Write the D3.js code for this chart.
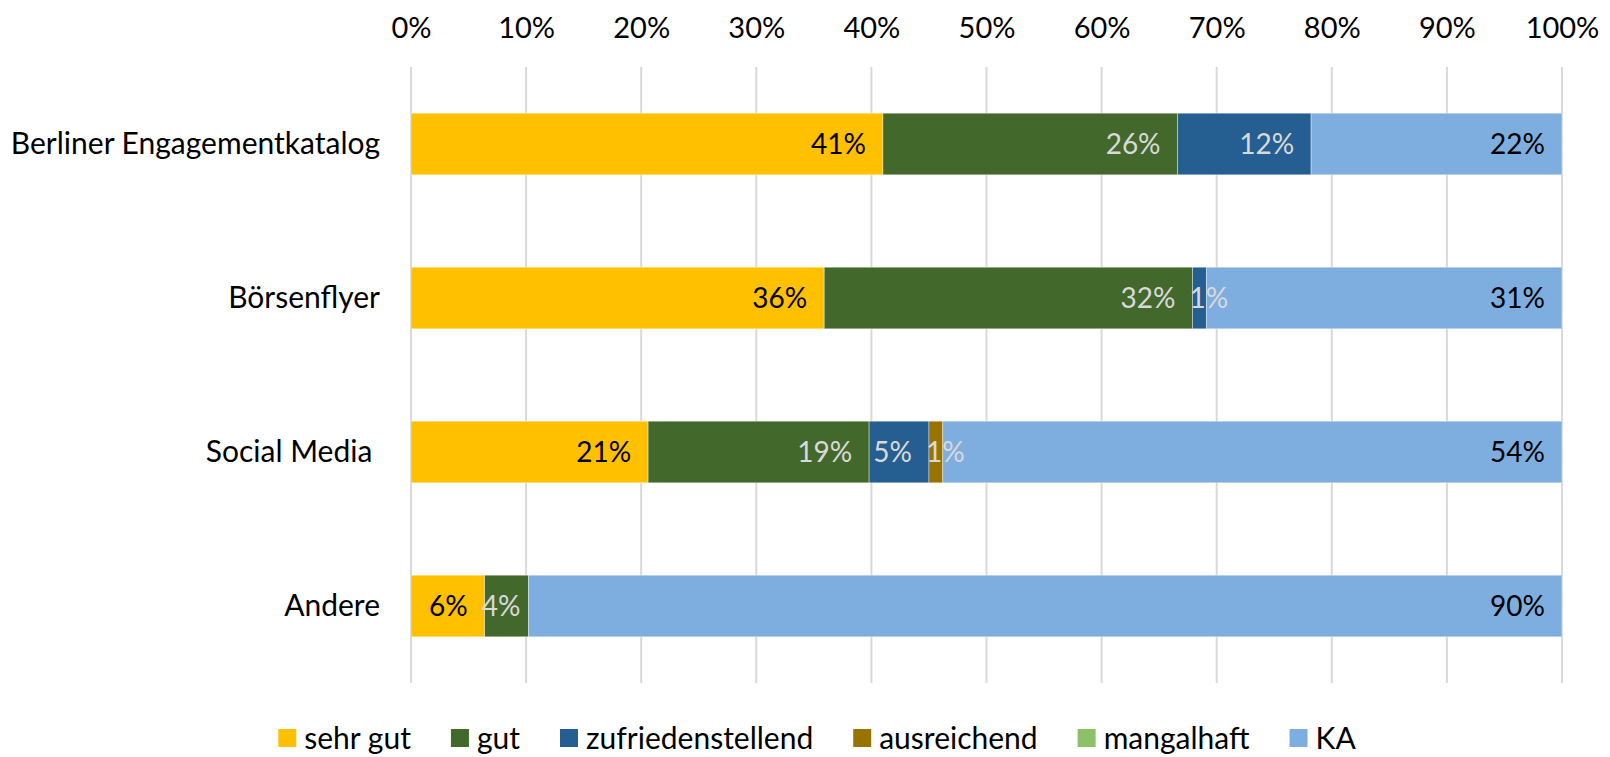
<!DOCTYPE html>
<html>
<head>
<meta charset="utf-8">
<script src="https://cdn.jsdelivr.net/npm/d3@7"></script>
<style>
  body { margin: 0; background: #fff; }
  text { font-family: Lato, "Noto Sans", sans-serif; white-space: pre; }
</style>
</head>
<body>
<div id="chart"></div>
<script>
// categories top to bottom
var categories = ["Berliner Engagementkatalog", "Börsenflyer", "Social Media ", "Andere"];
var seriesNames = ["sehr gut", "gut", "zufriedenstellend", "ausreichend", "mangalhaft", "KA"];

// share in % per category, one array per series
var sehrGut = [41.0, 35.9, 20.6, 6.4];
var gut = [25.6, 32.0, 19.2, 3.8];
var zufrieden = [11.6, 1.2, 5.2, 0];
var ausreichend = [0, 0, 1.2, 0];
var mangalhaft = [0, 0, 0, 0];
var ka = [21.8, 30.9, 53.8, 89.8];

var ticks = [0, 10, 20, 30, 40, 50, 60, 70, 80, 90, 100];

var colors = ["#FFC000", "#43682B", "#255E91", "#997300", "#8CC168", "#7DAEDF"];
var labelColors = ["#000", "#d9d9d9", "#d9d9d9", "#d9d9d9", "#000", "#000"];

var width = 1610;
var height = 757;

var margins = {
    top: 67,
    right: 48,
    bottom: 74,
    left: 411
}

var chartWidth = width - margins.left - margins.right;
var chartHeight = height - margins.top - margins.bottom;

var svg = d3.select("#chart").append("svg")
    .attr("width", width)
    .attr("height", height);

var chartGroup = svg.append("g")
    .attr("transform", `translate(${margins.left}, ${margins.top})`);

var xScale = d3.scaleLinear()
    .domain([0, 100])
    .range([0, chartWidth]);

var yScale = d3.scaleBand()
    .domain(categories)
    .range([0, chartHeight])
    .paddingInner(0.6)
    .paddingOuter(0.3);

// rows for the stack
var rows = categories.map(function (c, i) {
    return {
        cat: c,
        "sehr gut": sehrGut[i],
        "gut": gut[i],
        "zufriedenstellend": zufrieden[i],
        "ausreichend": ausreichend[i],
        "mangalhaft": mangalhaft[i],
        "KA": ka[i]
    }
});
var stacked = d3.stack().keys(seriesNames)(rows);

// gridlines
chartGroup.selectAll(".grid")
    .data(ticks)
    .enter()
    .append("line")
    .attr("x1", d => xScale(d))
    .attr("x2", d => xScale(d))
    .attr("y1", 0)
    .attr("y2", chartHeight)
    .attr("stroke", "#d9d9d9")
    .attr("stroke-width", 2);

// top axis labels
var topAxis = d3.axisTop(xScale)
    .tickValues(ticks)
    .tickSize(0)
    .tickPadding(29)
    .tickFormat(d => d + "%");

var xAxis = chartGroup.append("g").call(topAxis);
xAxis.select(".domain").remove();
xAxis.selectAll("text")
    .attr("font-size", "29px")
    .attr("fill", "#000")
    .style("font-family", "Lato, sans-serif");

// category labels
var leftAxis = d3.axisLeft(yScale)
    .tickSize(0)
    .tickPadding(31);

var yAxis = chartGroup.append("g").call(leftAxis);
yAxis.select(".domain").remove();
yAxis.selectAll("text")
    .attr("font-size", "30px")
    .attr("fill", "#000")
    .style("font-family", "Lato, sans-serif");

// bars
var layers = chartGroup.selectAll(".layer")
    .data(stacked)
    .enter()
    .append("g")
    .attr("fill", (d, i) => colors[i]);

layers.selectAll("rect")
    .data(d => d)
    .enter()
    .append("rect")
    .attr("x", d => xScale(d[0]))
    .attr("y", d => yScale(d.data.cat))
    .attr("width", d => xScale(d[1]) - xScale(d[0]))
    .attr("height", yScale.bandwidth())
    .attr("stroke", "rgba(255,255,255,0.5)")
    .attr("stroke-width", 0.75);

// data labels, inside end
stacked.forEach(function (layer, si) {
    layer.forEach(function (d) {
        var v = d[1] - d[0];
        if (v <= 0) return;
        var t = chartGroup.append("text")
            .attr("y", yScale(d.data.cat) + yScale.bandwidth() / 2)
            .attr("dy", "0.36em")
            .attr("text-anchor", "end")
            .attr("font-size", "28px")
            .attr("fill", labelColors[si])
            .text(Math.round(v) + "%");
        var tw = t.node().getComputedTextLength();
        var x0 = xScale(d[0]);
        var x1 = xScale(d[1]);
        t.attr("x", Math.max(x1 - 17, x0 + tw - 3));
    });
});

// legend
var legend = svg.append("g");
var lx = 0;
seriesNames.forEach(function (name, i) {
    var item = legend.append("g").attr("transform", `translate(${lx}, 0)`);
    item.append("rect")
        .attr("x", 0)
        .attr("y", -9)
        .attr("width", 18)
        .attr("height", 18)
        .attr("fill", colors[i]);
    var t = item.append("text")
        .attr("x", 26)
        .attr("dy", "0.36em")
        .attr("font-size", "30px")
        .attr("fill", "#000")
        .text(name);
    lx += 26 + t.node().getComputedTextLength() + 40;
});
lx -= 40;
legend.attr("transform", `translate(${817 - lx / 2}, 738)`);
</script>
</body>
</html>
